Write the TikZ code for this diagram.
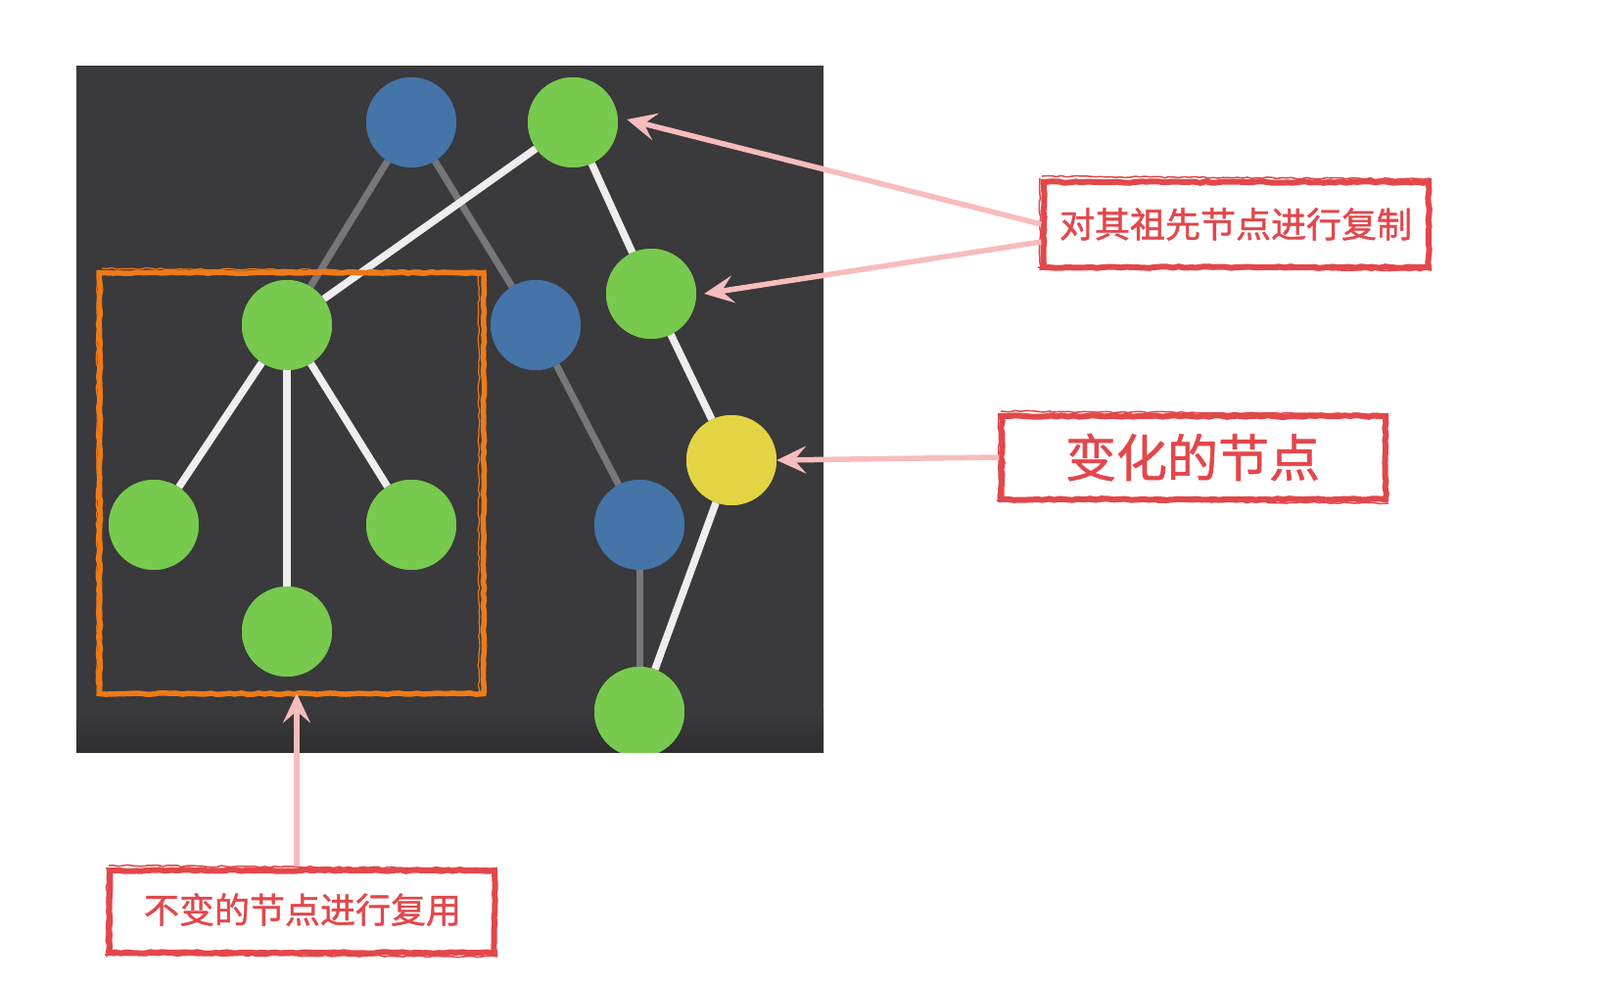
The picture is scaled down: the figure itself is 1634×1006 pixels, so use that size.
\documentclass[tikz,border=0pt]{standalone}
\usepackage{fontspec}
\newfontfamily\cjk[FakeBold=1.2]{Noto Sans CJK SC}
\usetikzlibrary{arrows.meta,decorations.pathmorphing}
\definecolor{bgdark}{HTML}{3A393B}
\definecolor{bgdarker}{HTML}{2E2D2F}
\definecolor{nblue}{HTML}{4474A8}
\definecolor{ngreen}{HTML}{77CA4E}
\definecolor{nyellow}{HTML}{E3D443}
\definecolor{egray}{HTML}{77777A}
\definecolor{ewhite}{HTML}{EEEEEE}
\definecolor{pinkarrow}{HTML}{F7BCBD}
\definecolor{labelred}{HTML}{E2474B}
\definecolor{boxorange}{HTML}{EE7A18}
\tikzset{
  treenode/.style={circle,minimum size=92pt,inner sep=0pt,draw=none},
  bluenode/.style={treenode,fill=nblue},
  greennode/.style={treenode,fill=ngreen},
  yellownode/.style={treenode,fill=nyellow},
  oldedge/.style={draw=egray,line width=7pt},
  newedge/.style={draw=ewhite,line width=7.5pt},
  pointer/.style={draw=pinkarrow,line width=5.5pt,-{Stealth[length=30pt,width=28pt,inset=12pt]}},
  roughred/.style={draw=labelred,line width=6pt,decorate,decoration={random steps,segment length=6pt,amplitude=0.8pt}},
  thinred/.style={draw=labelred,line width=1.5pt,decorate,decoration={random steps,segment length=5pt,amplitude=0.9pt}},
  labeltext/.style={text=labelred,font=\cjk,inner sep=0pt}
}
\begin{document}
\begin{tikzpicture}[x=1pt,y=-1pt]
\useasboundingbox (0,0) rectangle (1634,1006);
% dark background panel
\fill[bgdark] (78,67) rectangle (841,768);
\shade[top color=bgdark,bottom color=bgdarker] (78,725) rectangle (841,768);
\begin{scope}
\clip (78,67) rectangle (841,768);
% nodes
\node[bluenode] (b1) at (420,125) {};
\node[greennode] (g1) at (585,125) {};
\node[greennode] (g2) at (293,332) {};
\node[bluenode] (b2) at (547,332) {};
\node[greennode] (g3) at (665,300) {};
\node[yellownode] (y1) at (747,470) {};
\node[bluenode] (b3) at (653,536) {};
\node[greennode] (g4) at (653,727) {};
\node[greennode] (gl) at (157,536) {};
\node[greennode] (gr) at (420,536) {};
\node[greennode] (gb) at (293,645) {};
% edges
\path[oldedge] (b1) -- (g2);
\path[oldedge] (b1) -- (b2);
\path[oldedge] (b2) -- (b3);
\path[oldedge] (b3) -- (g4);
\path[newedge] (g1) -- (g2);
\path[newedge] (g1) -- (g3);
\path[newedge] (g3) -- (y1);
\path[newedge] (y1) -- (g4);
\path[newedge] (g2) -- (gl);
\path[newedge] (g2) -- (gr);
\path[newedge] (g2) -- (gb);
% redraw nodes on top of edges
\node[bluenode] at (b1) {};
\node[greennode] at (g1) {};
\node[greennode] at (g2) {};
\node[bluenode] at (b2) {};
\node[greennode] at (g3) {};
\node[yellownode] at (y1) {};
\node[bluenode] at (b3) {};
\node[greennode] at (g4) {};
\node[greennode] at (gl) {};
\node[greennode] at (gr) {};
\node[greennode] at (gb) {};
\end{scope}
% orange frame
\node[draw=boxorange,line width=5.5pt,minimum width=392pt,minimum height=430pt,inner sep=0pt,decorate,decoration={random steps,segment length=6pt,amplitude=0.7pt}] (frame) at (298,493.5) {};
\draw[boxorange,line width=1.2pt,decorate,decoration={random steps,segment length=5pt,amplitude=0.9pt}] (99,276) -- (99,711) (489,280) -- (489,710) (104,274) -- (495,277);
% label boxes
\node[labeltext,font=\cjk\fontsize{36}{42}\selectfont,minimum width=397pt,minimum height=92pt] (l1) at (1262,229) {对其祖先节点进行复制};
\draw[roughred] (1066,186) rectangle (1459,273);
\draw[thinred] (1062,182) -- (1062,276) (1060,273) -- (1462,276) (1064,180) -- (1462,183);
\node[labeltext,font=\cjk\fontsize{52}{58}\selectfont,minimum width=395pt,minimum height=90pt] (l2) at (1218,467) {变化的节点};
\draw[roughred] (1023,425) rectangle (1415,510);
\draw[thinred] (1020,422) -- (1020,513) (1018,511) -- (1418,514) (1022,420) -- (1418,423);
\node[labeltext,font=\cjk\fontsize{36}{42}\selectfont,minimum width=396pt,minimum height=90pt] (l3) at (309,929) {不变的节点进行复用};
\draw[roughred] (112,889) rectangle (505,973);
\draw[thinred] (109,886) -- (109,977) (107,975) -- (508,977) (111,884) -- (508,887);
% pointers
\draw[pointer] ([yshift=0pt]l1.west) -- ([xshift=9pt,yshift=3pt]g1.east);
\draw[pointer] ([yshift=-18pt]l1.west) -- ([xshift=8pt]g3.east);
\draw[pointer] (l2.west) -- (y1.east);
\draw[pointer] ([xshift=-6pt]l3.north) -- ([xshift=5pt,yshift=3pt]frame.south);
\end{tikzpicture}
\end{document}
